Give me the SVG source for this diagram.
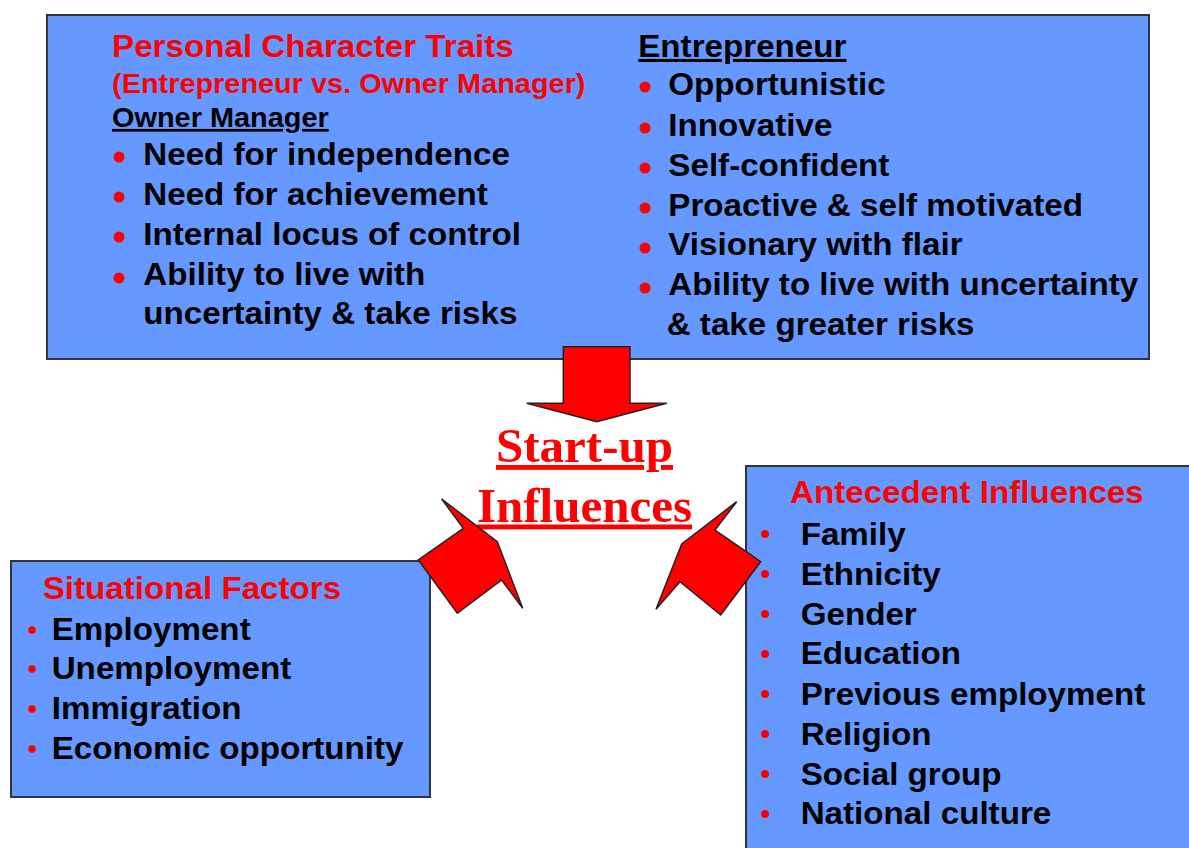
<svg xmlns="http://www.w3.org/2000/svg" width="1189" height="848" viewBox="0 0 1189 848">
<style>
.box{fill:#6699FF;stroke:#333340;stroke-width:2}
.t{font-family:"Liberation Sans",Arial,sans-serif;font-weight:bold;font-size:31px;fill:#000}
.r{fill:#FF0000}
.sm{font-size:27px}
.u{text-decoration:underline}
.dot{fill:#FF0000}
.arr{fill:#FF0000;stroke:#222;stroke-width:1.5;stroke-linejoin:miter}
.c{font-family:"Liberation Serif","Times New Roman",serif;font-weight:bold;font-size:49px;fill:#FF0000;text-decoration:underline;text-anchor:middle}
</style>
<rect width="1189" height="848" fill="#FFFFFF"/>
<g id="personal-traits">
<rect class="box" x="47" y="15" width="1102" height="344"/>
<g transform="scale(1.07,1)">
<text class="t r" x="104.7" y="57">Personal Character Traits</text>
<text class="t r sm" x="104.7" y="93">(Entrepreneur vs. Owner Manager)</text>
<text class="t sm u" x="104.7" y="127">Owner Manager</text>
<text class="t" x="133.9" y="165">Need for independence</text>
<text class="t" x="133.9" y="205">Need for achievement</text>
<text class="t" x="133.9" y="245">Internal locus of control</text>
<text class="t" x="133.9" y="285">Ability to live with</text>
<text class="t" x="133.9" y="324">uncertainty &amp; take risks</text>
<text class="t u" x="596.5" y="57">Entrepreneur</text>
<text class="t" x="624.6" y="95">Opportunistic</text>
<text class="t" x="624.6" y="136">Innovative</text>
<text class="t" x="624.6" y="176">Self-confident</text>
<text class="t" x="624.6" y="216">Proactive &amp; self motivated</text>
<text class="t" x="624.6" y="255">Visionary with flair</text>
<text class="t" x="624.6" y="295">Ability to live with uncertainty</text>
<text class="t" x="623.1" y="335">&amp; take greater risks</text>
</g>
<circle class="dot" cx="119" cy="157" r="5.5"/>
<circle class="dot" cx="119" cy="197" r="5.5"/>
<circle class="dot" cx="119" cy="237" r="5.5"/>
<circle class="dot" cx="119" cy="278" r="5.5"/>
<circle class="dot" cx="645" cy="87" r="5.5"/>
<circle class="dot" cx="645" cy="128" r="5.5"/>
<circle class="dot" cx="645" cy="168" r="5.5"/>
<circle class="dot" cx="645" cy="208" r="5.5"/>
<circle class="dot" cx="645" cy="248" r="5.5"/>
<circle class="dot" cx="645" cy="288" r="5.5"/>
</g>
<g id="situational-factors">
<rect class="box" x="11" y="561" width="419" height="236"/>
<g transform="scale(1.07,1)">
<text class="t r" x="39.9" y="599">Situational Factors</text>
<text class="t" x="48.3" y="640">Employment</text>
<text class="t" x="48.3" y="679">Unemployment</text>
<text class="t" x="48.3" y="719">Immigration</text>
<text class="t" x="48.3" y="759">Economic opportunity</text>
</g>
<circle class="dot" cx="32" cy="630" r="3.8"/>
<circle class="dot" cx="32" cy="669" r="3.8"/>
<circle class="dot" cx="32" cy="709" r="3.8"/>
<circle class="dot" cx="32" cy="749" r="3.8"/>
</g>
<g id="antecedent-influences">
<rect class="box" x="746" y="466" width="460" height="400"/>
<g transform="scale(1.07,1)">
<text class="t r" x="738.3" y="503">Antecedent Influences</text>
<text class="t" x="748.3" y="545">Family</text>
<text class="t" x="748.3" y="585">Ethnicity</text>
<text class="t" x="748.3" y="625">Gender</text>
<text class="t" x="748.3" y="664">Education</text>
<text class="t" x="748.3" y="705">Previous employment</text>
<text class="t" x="748.3" y="745">Religion</text>
<text class="t" x="748.3" y="785">Social group</text>
<text class="t" x="748.3" y="824">National culture</text>
</g>
<circle class="dot" cx="765" cy="534" r="4"/>
<circle class="dot" cx="765" cy="574" r="4"/>
<circle class="dot" cx="765" cy="614" r="4"/>
<circle class="dot" cx="765" cy="654" r="4"/>
<circle class="dot" cx="765" cy="694" r="4"/>
<circle class="dot" cx="765" cy="734" r="4"/>
<circle class="dot" cx="765" cy="774" r="4"/>
<circle class="dot" cx="765" cy="814" r="4"/>
</g>
<g id="startup-influences">
<text class="c" x="584.5" y="462">Start-up</text>
<text class="c" x="584.5" y="521.5">Influences</text>
</g>
<g id="connectors">
<polygon class="arr" points="563.3,346.7 630,346.7 630,403.3 666.7,403.3 596.7,421.7 526.7,403.3 563.3,403.3"/>
<polygon class="arr" points="441.7,499 497.3,541.7 522.7,608.3 501.7,580 457.3,613.3 418.3,560 463.3,528.3"/>
<polygon class="arr" points="736.7,501.7 681.7,544 656,609.3 680,581.7 720.7,615 760.7,561.7 715,530"/>
</g>
</svg>
